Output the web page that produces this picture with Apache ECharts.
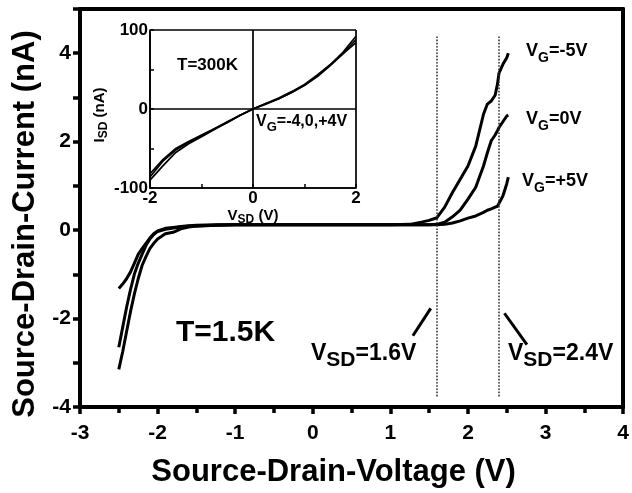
<!DOCTYPE html>
<html>
<head>
<meta charset="utf-8">
<script src="https://cdn.jsdelivr.net/npm/echarts@6/dist/echarts.min.js"></script>
<style>
  html, body { margin: 0; padding: 0; background: #fff; }
  #main { width: 632px; height: 493px; }
</style>
</head>
<body>
<div id="main"></div>
<script>
// source-drain voltage samples (V)
var vsd = [-2.5, -2.45, -2.4, -2.35, -2.3, -2.25, -2.2, -2.15, -2.1, -2.05, -2.0, -1.9, -1.8, -1.7, -1.6, -1.5, -1.25, -1, -0.5, 0, 0.5, 1, 1.25, 1.4, 1.5, 1.6, 1.7, 1.8, 1.9, 2.0, 2.1, 2.2, 2.25, 2.3, 2.35, 2.38, 2.4, 2.45, 2.5, 2.52]
// currents at T=1.5K (nA)
var iVgM5 = [-2.65, -2.2, -1.75, -1.35, -1.0, -0.75, -0.55, -0.35, -0.2, -0.1, -0.03, 0.02, 0.05, 0.07, 0.09, 0.1, 0.11, 0.12, 0.12, 0.12, 0.12, 0.12, 0.13, 0.18, 0.22, 0.28, 0.52, 0.85, 1.15, 1.45, 1.9, 2.62, 2.85, 2.92, 3.05, 3.3, 3.55, 3.75, 3.9, 4.0]
var iVg0 = [-3.15, -2.75, -2.3, -1.85, -1.45, -1.1, -0.8, -0.6, -0.42, -0.3, -0.2, -0.08, -0.05, 0.03, 0.07, 0.09, 0.11, 0.12, 0.12, 0.12, 0.12, 0.12, 0.12, 0.12, 0.12, 0.13, 0.18, 0.3, 0.45, 0.7, 0.97, 1.45, 1.75, 2.02, 2.15, 2.25, 2.32, 2.45, 2.58, 2.6]
var iVgP5 = [-1.32, -1.22, -1.1, -0.95, -0.75, -0.55, -0.42, -0.3, -0.18, -0.08, -0.02, 0.04, 0.06, 0.08, 0.1, 0.11, 0.12, 0.12, 0.12, 0.12, 0.12, 0.12, 0.12, 0.12, 0.12, 0.12, 0.13, 0.16, 0.21, 0.27, 0.32, 0.4, 0.45, 0.48, 0.52, 0.54, 0.58, 0.77, 1.05, 1.2]
// inset, T=300K
var insetV = [-2, -1.75, -1.5, -1.25, -1, -0.75, -0.5, -0.25, 0, 0.25, 0.5, 0.75, 1, 1.25, 1.5, 1.75, 2]
var insetI1 = [-90, -72, -55, -44, -35, -26, -17, -8, 0, 7, 13, 21, 30, 41, 55, 70, 88]
var insetI2 = [-86, -66, -52, -42, -34, -25, -17, -8, 0, 6, 13, 21, 30, 42, 56, 72, 92]
var insetI3 = [-82, -64, -50, -41, -33, -25, -16, -8, 0, 7, 14, 22, 31, 43, 56, 70, 84]
var markV = [1.6, 2.4]

var FONT = '"Liberation Sans", Arial, sans-serif'

function zip(xs, ys) {
  return xs.map(function (x, i) { return [x, ys[i]] })
}

// rich text with a subscript part
function subRich(size, subSize, lift) {
  return {
    a: { fontFamily: FONT, fontWeight: 'bold', fontSize: size, color: '#000', verticalAlign: 'bottom', padding: [0, 0, lift, 0] },
    b: { fontFamily: FONT, fontWeight: 'bold', fontSize: subSize, color: '#000', verticalAlign: 'bottom' }
  }
}

function label(x, y, text, size, subSize, lift) {
  return {
    type: 'text', left: x, top: y, z: 100,
    style: { text: text, rich: subRich(size, subSize, lift), fill: '#000' }
  }
}

var chart = echarts.init(document.getElementById('main'))

var mainLine = { color: '#000', width: 3 }
var insetLine = { color: '#000', width: 1.7 }

var option = {
  backgroundColor: '#fff',
  animation: false,
  grid: [
    { left: 80, top: 9, right: 4, bottom: 83 },
    { left: 150, top: 30, width: 206, height: 158 }
  ],
  xAxis: [
    {
      type: 'value', gridIndex: 0, min: -3, max: 4, interval: 1,
      axisLine: { onZero: false, lineStyle: { color: '#000', width: 4 } },
      axisTick: { length: 7, lineStyle: { color: '#000', width: 3.5 } },
      minorTick: { show: true, splitNumber: 2, length: 6, lineStyle: { color: '#000', width: 3.5 } },
      axisLabel: { color: '#000', fontFamily: FONT, fontWeight: 'bold', fontSize: 21, margin: 16 },
      splitLine: { show: false },
      name: 'Source-Drain-Voltage (V)', nameLocation: 'middle', nameGap: 50,
      nameTextStyle: { color: '#000', fontFamily: FONT, fontWeight: 'bold', fontSize: 31, padding: [0, 36, 0, 0] }
    },
    {
      type: 'value', gridIndex: 0, position: 'top', min: -3, max: 4,
      axisLine: { onZero: false, lineStyle: { color: '#000', width: 4 } },
      axisTick: { show: false }, axisLabel: { show: false }, splitLine: { show: false }
    },
    {
      type: 'value', gridIndex: 1, min: -2, max: 2, interval: 2,
      axisLine: { onZero: false, lineStyle: { color: '#000', width: 1.7 } },
      axisTick: { inside: true, length: 4, lineStyle: { color: '#000', width: 1.5 } },
      minorTick: { show: true, splitNumber: 2, length: 4, lineStyle: { color: '#000', width: 1.5 } },
      axisLabel: { color: '#000', fontFamily: FONT, fontWeight: 'bold', fontSize: 17, margin: 2 },
      splitLine: { show: true, lineStyle: { color: '#000', width: 1.7 } },
      name: '{a|V}{b|SD}{a| (V)}', nameLocation: 'middle', nameGap: 15,
      nameTextStyle: { rich: subRich(15, 12, 3) }
    }
  ],
  yAxis: [
    {
      type: 'value', gridIndex: 0, min: -4, max: 5, interval: 1,
      axisLine: { onZero: false, lineStyle: { color: '#000', width: 4 } },
      axisTick: { length: 7, lineStyle: { color: '#000', width: 3.5 } },
      axisLabel: {
        color: '#000', fontFamily: FONT, fontWeight: 'bold', fontSize: 21, margin: 9,
        formatter: function (v) { return v % 2 === 0 ? String(v) : '' }
      },
      splitLine: { show: false },
      name: 'Source-Drain-Current (nA)', nameLocation: 'middle', nameGap: 24,
      nameTextStyle: { color: '#000', fontFamily: FONT, fontWeight: 'bold', fontSize: 31, padding: [0, 32, 0, 0] }
    },
    {
      type: 'value', gridIndex: 0, position: 'right', min: -4, max: 5,
      axisLine: { onZero: false, lineStyle: { color: '#000', width: 4 } },
      axisTick: { show: false }, axisLabel: { show: false }, splitLine: { show: false }
    },
    {
      type: 'value', gridIndex: 1, min: -100, max: 100, interval: 100,
      axisLine: { onZero: false, lineStyle: { color: '#000', width: 1.7 } },
      axisTick: { inside: true, length: 4, lineStyle: { color: '#000', width: 1.5 } },
      minorTick: { show: true, splitNumber: 2, length: 4, lineStyle: { color: '#000', width: 1.5 } },
      axisLabel: { color: '#000', fontFamily: FONT, fontWeight: 'bold', fontSize: 17, margin: 2 },
      splitLine: { show: true, lineStyle: { color: '#000', width: 1.7 } },
      name: '{a|I}{b|SD}{a| (nA)}', nameLocation: 'middle', nameGap: 28,
      nameTextStyle: { rich: subRich(15, 12, 3), padding: [0, 12, 0, 0] }
    }
  ],
  series: [
    {
      name: 'VG=-5V', type: 'line', xAxisIndex: 0, yAxisIndex: 0,
      data: zip(vsd, iVgM5), showSymbol: false, lineStyle: mainLine,
      markLine: {
        silent: true, symbol: 'none', label: { show: false },
        lineStyle: { color: '#333', width: 1.6, type: 'dotted' },
        data: markV.map(function (v) { return [{ coord: [v, 4.38] }, { coord: [v, -3.78] }] })
      }
    },
    {
      name: 'VG=0V', type: 'line', xAxisIndex: 0, yAxisIndex: 0,
      data: zip(vsd, iVg0), showSymbol: false, lineStyle: mainLine,
      markLine: {
        silent: true, symbol: 'none', label: { show: false },
        lineStyle: { color: '#000', width: 3, type: 'solid' },
        data: [
          [{ coord: [1.52, -1.77] }, { coord: [1.29, -2.39] }],
          [{ coord: [2.47, -1.88] }, { coord: [2.76, -2.59] }]
        ]
      }
    },
    {
      name: 'VG=+5V', type: 'line', xAxisIndex: 0, yAxisIndex: 0,
      data: zip(vsd, iVgP5), showSymbol: false, lineStyle: mainLine
    },
    { type: 'line', xAxisIndex: 2, yAxisIndex: 2, data: zip(insetV, insetI1), showSymbol: false, lineStyle: insetLine },
    { type: 'line', xAxisIndex: 2, yAxisIndex: 2, data: zip(insetV, insetI2), showSymbol: false, lineStyle: insetLine },
    { type: 'line', xAxisIndex: 2, yAxisIndex: 2, data: zip(insetV, insetI3), showSymbol: false, lineStyle: insetLine }
  ],
  graphic: [
    label(526, 42, '{a|V}{b|G}{a|=-5V}', 18, 14, 5),
    label(526, 110, '{a|V}{b|G}{a|=0V}', 18, 14, 5),
    label(522, 172, '{a|V}{b|G}{a|=+5V}', 18, 14, 5),
    label(311, 342, '{a|V}{b|SD}{a|=1.6V}', 23, 21, 6),
    label(508, 342, '{a|V}{b|SD}{a|=2.4V}', 23, 21, 6),
    label(256, 114, '{a|V}{b|G}{a|=-4,0,+4V}', 16, 13, 4),
    { type: 'text', left: 176, top: 318, z: 100, style: { text: 'T=1.5K', fill: '#000', font: 'bold 30px ' + FONT } },
    { type: 'text', left: 177, top: 57, z: 100, style: { text: 'T=300K', fill: '#000', font: 'bold 17px ' + FONT } }
  ]
}

chart.setOption(option)
</script>
</body>
</html>
